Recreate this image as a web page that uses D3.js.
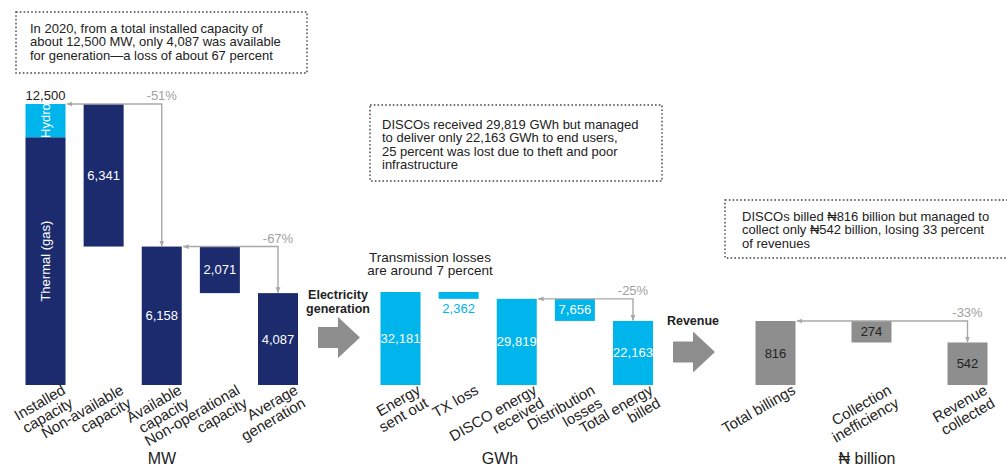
<!DOCTYPE html>
<html>
<head>
<meta charset="utf-8">
<script src="https://cdn.jsdelivr.net/npm/d3@7"></script>
<style>
  body { margin: 0; background: #fff; }
  svg { display: block; font-family: "Liberation Sans", Arial, "DejaVu Sans", sans-serif; }
</style>
</head>
<body>
<svg id="chart" width="1007" height="470"></svg>
<script>
// ---- Capacity, MW ----
const mwCategories = [["Installed", "capacity"], ["Non-available", "capacity"], ["Available", "capacity"], ["Non-operational", "capacity"], ["Average", "generation"]];
const mwValues = [12500, 6341, 6158, 2071, 4087];
const mwKinds = ["total", "loss", "total", "loss", "total"];
const mwMixNames = ["Thermal (gas)", "Hydro"];
const mwMixValues = [11020, 1480];
const mwChanges = [[0, 2, "-51%"], [2, 4, "-67%"]];

// ---- Energy, GWh ----
const gwhCategories = [["Energy", "sent out"], ["TX loss"], ["DISCO energy", "received"], ["Distribution", "losses"], ["Total energy", "billed"]];
const gwhValues = [32181, 2362, 29819, 7656, 22163];
const gwhKinds = ["total", "loss", "total", "loss", "total"];
const gwhChanges = [[2, 4, "-25%"]];

// ---- Revenue, ₦ billion ----
const nairaCategories = [["Total billings"], ["Collection", "inefficiency"], ["Revenue", "collected"]];
const nairaValues = [816, 274, 542];
const nairaKinds = ["total", "loss", "total"];
const nairaChanges = [[0, 2, "-33%"]];

// ---- Callout texts ----
const noteCapacity = ["In 2020, from a total installed capacity of", "about 12,500 MW, only 4,087 was available", "for generation\u2014a loss of about 67 percent"];
const noteEnergy = ["DISCOs received 29,819 GWh but managed", "to deliver only 22,163 GWh to end users,", "25 percent was lost due to theft and poor", "infrastructure"];
const noteRevenue = ["DISCOs billed \u20A6816 billion but managed to", "collect only \u20A6542 billion, losing 33 percent", "of revenues"];
const noteTransmission = ["Transmission losses", "are around 7 percent"];

const NAVY = "#1b2b6d", CYAN = "#00b4ec", GREY = "#8e8e8e";
const LINE = "#a8a8a8", TEXT = "#222", BASE_Y = 385, BAR_W = 40;

const svg = d3.select("#chart");

// arrowhead for the percentage connectors
svg.append("defs").append("marker")
  .attr("id", "tip").attr("viewBox", "0 0 10 10")
  .attr("refX", 9).attr("refY", 5)
  .attr("markerUnits", "userSpaceOnUse")
  .attr("markerWidth", 6).attr("markerHeight", 6)
  .attr("orient", "auto-start-reverse")
  .append("path").attr("d", "M0,1L10,5L0,9Z").attr("fill", LINE);

function drawPanel(cfg) {
  const { categories, values, kinds, changes, xRange, yTop, fill, valueFill, unit, unitX } = cfg;
  const g = svg.append("g");
  const x = d3.scalePoint().domain(d3.range(values.length)).range(xRange);
  const y = d3.scaleLinear().domain([0, d3.max(values)]).range([BASE_Y, yTop]);

  // waterfall spans: totals start at zero, losses hang from the previous total
  let running = 0;
  const spans = values.map((v, i) => {
    if (kinds[i] === "total") { running = v; return [0, v]; }
    const s = [running - v, running];
    running -= v;
    return s;
  });

  values.forEach((v, i) => {
    const [lo, hi] = spans[i];
    if (cfg.mix && i === 0) {
      // installed capacity split by source
      let acc = 0;
      cfg.mix.values.forEach((mv, k) => {
        const y0 = y(acc), y1 = y(acc + mv);
        g.append("rect").attr("x", x(i) - BAR_W / 2).attr("y", y1)
          .attr("width", BAR_W).attr("height", y0 - y1)
          .attr("fill", cfg.mix.colors[k]);
        g.append("text")
          .attr("transform", `translate(${x(i) + 4.5},${(y0 + y1) / 2}) rotate(-90)`)
          .attr("text-anchor", "middle").attr("font-size", 13)
          .attr("fill", "#fff").text(cfg.mix.names[k]);
        acc += mv;
      });
      g.append("text").attr("x", x(i)).attr("y", y(hi) - 4)
        .attr("text-anchor", "middle").attr("font-size", 13)
        .attr("fill", TEXT).text(d3.format(",")(v));
      return;
    }
    const top = y(hi), bot = y(lo);
    g.append("rect").attr("x", x(i) - BAR_W / 2).attr("y", top)
      .attr("width", BAR_W).attr("height", bot - top).attr("fill", fill);
    const small = bot - top < 15;
    g.append("text").attr("x", x(i))
      .attr("y", small ? bot + 14 : (top + bot) / 2 + 4.5)
      .attr("text-anchor", "middle").attr("font-size", 13)
      .attr("fill", small ? fill : valueFill)
      .text(d3.format(",")(v));
  });

  // percentage change connectors
  changes.forEach(([from, to, label]) => {
    const yl = y(spans[from][1]);
    const x1 = x(from) + BAR_W / 2 + 1.5;
    const x2 = x(to);
    const y2 = y(spans[to][1]) - 0.5;
    g.append("path")
      .attr("d", `M${x1},${yl}H${x2}V${y2}`)
      .attr("fill", "none").attr("stroke", LINE).attr("stroke-width", 1.4)
      .attr("marker-start", "url(#tip)").attr("marker-end", "url(#tip)");
    g.append("text").attr("x", x2).attr("y", yl - 4)
      .attr("text-anchor", "middle").attr("font-size", 13)
      .attr("fill", "#a0a0a0").text(label);
  });

  // slanted category labels
  categories.forEach((lines, i) => {
    const t = g.append("text")
      .attr("transform", `translate(${x(i) + BAR_W / 2 + 1},${BASE_Y + 8}) rotate(-30)`)
      .attr("text-anchor", "end").attr("font-size", 15).attr("fill", TEXT);
    lines.forEach((ln, k) => t.append("tspan").attr("x", 0).attr("dy", k ? 15 : 0).text(ln));
  });

  g.append("text").attr("x", unitX).attr("y", 464)
    .attr("text-anchor", "middle").attr("font-size", 16).attr("fill", TEXT).text(unit);
}

drawPanel({
  categories: mwCategories, values: mwValues, kinds: mwKinds, changes: mwChanges,
  xRange: [45.5, 278], yTop: 104, fill: NAVY, valueFill: "#fff", unit: "MW", unitX: 162,
  mix: { names: mwMixNames, values: mwMixValues, colors: [NAVY, CYAN] }
});
drawPanel({
  categories: gwhCategories, values: gwhValues, kinds: gwhKinds, changes: gwhChanges,
  xRange: [400.5, 633], yTop: 292, fill: CYAN, valueFill: "#fff", unit: "GWh", unitX: 500
});
drawPanel({
  categories: nairaCategories, values: nairaValues, kinds: nairaKinds, changes: nairaChanges,
  xRange: [775.5, 967.5], yTop: 321, fill: GREY, valueFill: "#222", unit: "\u20A6 billion", unitX: 867
});

// dotted callout boxes
function callout(x, y, w, h, lines, tx, ty) {
  svg.append("rect").attr("x", x).attr("y", y).attr("width", w).attr("height", h)
    .attr("fill", "none").attr("stroke", "#444").attr("stroke-width", 1.4)
    .attr("stroke-dasharray", "1.6,2.2");
  const t = svg.append("text").attr("font-size", 13).attr("fill", TEXT);
  lines.forEach((ln, k) => t.append("tspan").attr("x", tx).attr("y", ty + k * 13.5).text(ln));
}
callout(16, 12, 291, 61, noteCapacity, 30, 32.5);
callout(370, 105, 292, 76, noteEnergy, 382, 128.5);
callout(725, 200, 290, 58, noteRevenue, 742, 220.5);

// transmission note
const tn = svg.append("text").attr("font-size", 13.5).attr("fill", TEXT).attr("text-anchor", "middle");
noteTransmission.forEach((ln, k) => tn.append("tspan").attr("x", 430).attr("y", 261.5 + k * 13.5).text(ln));

// stage arrows between panels
function stageArrow(xl, yc, lines, ly) {
  svg.append("path")
    .attr("d", `M${xl},${yc - 10.5}H${xl + 20}V${yc - 20.5}L${xl + 42},${yc}L${xl + 20},${yc + 20.5}V${yc + 10.5}H${xl}Z`)
    .attr("fill", GREY);
  const t = svg.append("text").attr("font-size", 12.5).attr("font-weight", "bold")
    .attr("fill", TEXT).attr("text-anchor", "middle");
  lines.forEach((ln, k) => t.append("tspan").attr("x", xl + 20).attr("y", ly + k * 14.5).text(ln));
}
stageArrow(318, 337.5, ["Electricity", "generation"], 298.5);
stageArrow(673, 352, ["Revenue"], 325);
</script>
</body>
</html>
